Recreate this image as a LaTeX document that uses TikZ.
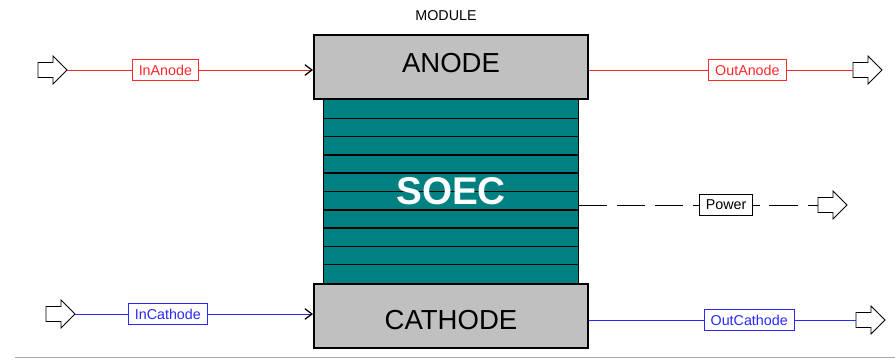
\documentclass[tikz,border=0pt]{standalone}
\usepackage{fontspec}
\setmainfont{Liberation Sans}
\usepackage{tikz}
\usetikzlibrary{arrows.meta}

\definecolor{stackteal}{RGB}{0,128,128}
\definecolor{boxgray}{RGB}{192,192,192}
\definecolor{anodered}{RGB}{255,40,40}
\definecolor{cathblue}{RGB}{40,40,255}

\tikzset{
  block/.style={draw=black,line width=1.7pt,fill=boxgray,minimum width=8.22cm,
    minimum height=1.92cm,font=\fontsize{23.5}{26}\selectfont},
  tag/.style={draw,solid,fill=white,line width=0.8pt,inner xsep=5.5pt,minimum height=0.64cm,
    font=\fontsize{12.2}{14}\selectfont},
  flow/.style={line width=0.85pt},
  inflow/.style={flow,-{Straight Barb[black,length=6pt,width=9pt,line width=1.1pt]}},
  port/.pic={\draw[line width=0.7pt,fill=white]
    (0,-7.5) -- (15,-7.5) -- (15,-14) -- (29,0) -- (15,14) -- (15,7.5) -- (0,7.5) -- cycle;}
}

\begin{document}
\begin{tikzpicture}[x=0.03cm,y=-0.03cm]
\path[use as bounding box] (0,0) rectangle (895,359);

% cell stack
\node[draw,line width=1.3pt,fill=stackteal,minimum width=7.64cm,minimum height=5.61cm]
  (stack) at (451,191.5) {};
\foreach \k in {1,...,9}
  \draw[line width=1.3pt] (324,{100+18.3*\k}) -- (578,{100+18.3*\k});
\node[text=white,font=\fontsize{33}{36}\bfseries\selectfont] (soec) at (stack) {SOEC};

% electrodes
\node[block,text height=16.8pt,text depth=6.8pt] (anode) at (451,67) {ANODE};
\node[block,text height=24.4pt,text depth=0pt] (cathode) at (451,315.5) {CATHODE};
\node[font=\fontsize{12.2}{14}\selectfont] (module) at (446,16) {MODULE};

% ports
\coordinate (inA) at (67,70);
\coordinate (inC) at (75,314);
\coordinate (outA) at (853,70);
\coordinate (outC) at (856,320);
\coordinate (pw) at (818,205);
\pic at (38,70) {port};
\pic at (46,314) {port};
\pic at (outA) {port};
\pic at (outC) {port};
\pic at (pw) {port};

% anode side
\draw[inflow,draw=anodered] (inA) -- (inA -| anode.west)
  node[tag,draw=anodered,text=anodered,pos=0.4] (inAtag) {InAnode};
\draw[flow,draw=anodered] (outA -| anode.east) -- (outA)
  node[tag,draw=anodered,text=anodered,pos=0.6] (outAtag) {OutAnode};

% cathode side
\draw[inflow,draw=cathblue] (inC) -- (inC -| cathode.west)
  node[tag,draw=cathblue,text=cathblue,pos=0.39] (inCtag) {InCathode};
\draw[flow,draw=cathblue] (outC -| cathode.east) -- (outC)
  node[tag,draw=cathblue,text=cathblue,pos=0.6] (outCtag) {OutCathode};

% power
\draw[flow,dash pattern=on 24pt off 8.5pt] (pw -| stack.east) -- (pw)
  node[tag,pos=0.615] (pwtag) {Power};

\draw[black!35,line width=0.8pt] (15,357.5) -- (895,357.5);
\end{tikzpicture}
\end{document}
